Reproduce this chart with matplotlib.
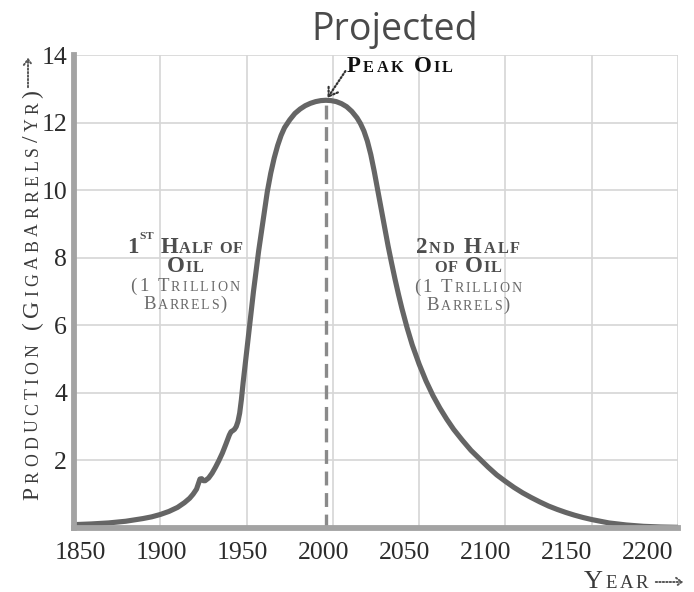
import numpy as np
import matplotlib
matplotlib.use("Agg")
import matplotlib.pyplot as plt
from matplotlib.font_manager import findfont, FontProperties
from matplotlib.ft2font import FT2Font

# ---------------- data ----------------
years = [1850, 1860, 1870, 1880, 1890, 1895, 1900, 1905, 1910, 1914, 1917, 1919,
         1921, 1922, 1923, 1924, 1925, 1926, 1928, 1930, 1932, 1934, 1936, 1938,
         1940, 1941, 1942, 1943, 1944, 1945, 1946, 1947, 1948, 1949, 1950, 1951,
         1952, 1953, 1954, 1955, 1956, 1957, 1958, 1959, 1960, 1961, 1962, 1964,
         1966, 1968, 1970, 1972, 1975, 1978, 1981, 1984, 1987, 1990, 1993, 1996,
         1999, 2002, 2005, 2008, 2011, 2014, 2016, 2018, 2020, 2022, 2024, 2026,
         2028, 2030, 2032, 2034, 2036, 2038, 2040, 2043, 2046, 2050, 2054, 2058,
         2062, 2066, 2070, 2075, 2080, 2085, 2090, 2095, 2100, 2105, 2110, 2115,
         2120, 2125, 2130, 2135, 2140, 2145, 2150, 2155, 2160, 2170, 2180, 2190,
         2200]
production = [0.10, 0.12, 0.15, 0.20, 0.28, 0.33, 0.40, 0.49, 0.61, 0.75, 0.88, 1.00,
              1.15, 1.30, 1.45, 1.46, 1.40, 1.40, 1.48, 1.62, 1.80, 2.00, 2.22, 2.48,
              2.75, 2.85, 2.88, 2.92, 3.00, 3.15, 3.40, 3.80, 4.30, 4.75, 5.20, 5.65,
              6.10, 6.55, 7.00, 7.40, 7.80, 8.20, 8.55, 8.90, 9.25, 9.60, 9.95, 10.50,
              10.95, 11.32, 11.62, 11.85, 12.08, 12.27, 12.40, 12.50, 12.57, 12.62, 12.65, 12.66,
              12.65, 12.62, 12.56, 12.47, 12.33, 12.14, 11.97, 11.75, 11.45, 11.05, 10.55, 10.00,
              9.45, 8.90, 8.35, 7.85, 7.37, 6.92, 6.50, 5.93, 5.42, 4.85, 4.35, 3.92,
              3.55, 3.22, 2.92, 2.60, 2.30, 2.05, 1.80, 1.57, 1.38, 1.20, 1.04, 0.90,
              0.77, 0.65, 0.55, 0.46, 0.38, 0.31, 0.25, 0.20, 0.15, 0.09, 0.05, 0.03,
              0.02]
x_ticks = [1850, 1900, 1950, 2000, 2050, 2100, 2150, 2200]
y_ticks = [2, 4, 6, 8, 10, 12, 14]
title = "Projected"
y_label = "Production (Gigabarrels/yr)"
x_label = "Year"
peak_label = "Peak Oil"
left_lines = ["1st Half of", "Oil", "(1 Trillion", "Barrels)"]
right_lines = ["2nd Half", "of Oil", "(1 Trillion", "Barrels)"]

# ---------------- figure ----------------
W, H, DPI = 694, 592, 100
plt.rcParams["lines.scale_dashes"] = False
fig = plt.figure(figsize=(W / DPI, H / DPI), dpi=DPI)
fig.patch.set_facecolor("white")
AX_L, AX_R, AX_T, AX_B = 74, 678, 55, 528
ax = fig.add_axes([AX_L / W, 1 - AX_B / H, (AX_R - AX_L) / W, (AX_B - AX_T) / H])

SERIF = "Liberation Serif"

ax.plot(years, production, color="#656565", lw=3.7, solid_capstyle="round",
        solid_joinstyle="round", zorder=4)
i_peak = int(np.argmax(production))
ax.vlines(years[i_peak], 0, production[i_peak], colors="#8a8a8a", lw=2.4,
          linestyles=(0, (10, 5.5)), zorder=3)

ax.set_xlim(x_ticks[0], x_ticks[-1])
ax.set_ylim(0, y_ticks[-1])
# grid at the major ticks, labels at slightly compressed positions (as in the source)
ax.set_xticks(x_ticks)
ax.set_xticklabels([])
px_per_year = (AX_R - AX_L) / (x_ticks[-1] - x_ticks[0])
lab_pos = [x_ticks[0] + (6 + 81.1 * k) / px_per_year for k in range(len(x_ticks))]
ax.set_xticks(lab_pos, minor=True)
ax.set_xticklabels([str(t) for t in x_ticks], minor=True)
ax.set_yticks(y_ticks)
ax.grid(which="major", color="#d6d6d6", lw=1.2)
ax.set_axisbelow(True)
for s in ("top", "right"):
    ax.spines[s].set_visible(False)
for s in ("left", "bottom"):
    ax.spines[s].set_color("#a3a3a3")
    ax.spines[s].set_linewidth(4.2)
    ax.spines[s].set_capstyle("projecting")
    ax.spines[s].set_zorder(5)
ax.tick_params(which="both", length=0, labelsize=18.5, colors="#2b2b2b")
ax.tick_params(axis="x", which="both", pad=10)
ax.tick_params(axis="y", pad=5)
for lab in (ax.get_xticklabels(minor=True) + ax.get_yticklabels()):
    lab.set_fontfamily(SERIF)

# ---------------- small caps helper ----------------
_font_cache = {}


def _advance(ch, size, weight):
    if weight not in _font_cache:
        _font_cache[weight] = findfont(FontProperties(family=SERIF, weight=weight))
    f = FT2Font(_font_cache[weight])
    f.set_size(size, DPI)
    g = f.load_char(ord(ch))
    return g.linearHoriAdvance / 65536.0


def sc_parts(s, big, small, sup=None):
    parts = []
    i = 0
    while i < len(s):
        c = s[i]
        if sup and s[i:i + len(sup)] == sup and i > 0 and s[i - 1].isdigit():
            for cc in sup:
                parts.append((cc.upper(), big * 0.5, big * 0.62))
            i += len(sup)
            continue
        if c.islower():
            parts.append((c.upper(), small, 0))
        else:
            parts.append((c, big, 0))
        i += 1
    return parts


def sc_draw(parts, x, y, width=None, ha="center", rot=0, color="#333",
            weight="normal"):
    advs = [_advance(c, s, weight) for c, s, _ in parts]
    natural = sum(advs)
    n = len(parts)
    track = (width - natural) / (n - 1) if (width and n > 1) else 0.0
    track = max(track, 0.0)
    total = natural + track * (n - 1)
    if ha == "center":
        start = -total / 2
    elif ha == "right":
        start = -total
    else:
        start = 0.0
    pos = start
    for (c, s, dy), a in zip(parts, advs):
        if rot == 0:
            px, py = x + pos, y - dy * DPI / 72
        else:
            px, py = x - dy * DPI / 72, y - pos
        fig.text(px / W, 1 - py / H, c, fontsize=s, fontfamily=SERIF,
                 fontweight=weight, color=color, ha="left", va="baseline",
                 rotation=rot, rotation_mode="anchor")
        pos += a + track


# title
fig.text(395 / W, 1 - 40 / H, title, fontsize=27, fontfamily="Open Sans",
         color="#4a4a4a", ha="center", va="baseline")

# y label (rotated, baseline at x=38, starting at y=500 going up)
sc_draw(sc_parts(y_label, 17, 12.8), 38, 500, width=410, ha="left", rot=90,
        color="#3a3a3a")
fig.add_artist(matplotlib.patches.FancyArrowPatch(
    (28 / W, 1 - 90 / H), (28 / W, 1 - 55 / H), transform=fig.transFigure,
    arrowstyle="->,head_length=4,head_width=3", linestyle=(0, (1, 1.5)),
    color="#555", lw=1.4, mutation_scale=1))

# x label (right end just before the dotted arrow)
sc_draw(sc_parts(x_label, 19.0, 13.5), 648, 588, width=64, ha="right",
        color="#3a3a3a")
fig.add_artist(matplotlib.patches.FancyArrowPatch(
    (653 / W, 1 - 582 / H), (686 / W, 1 - 582 / H), transform=fig.transFigure,
    arrowstyle="->,head_length=4,head_width=3", linestyle=(0, (1, 1.5)),
    color="#555", lw=1.4, mutation_scale=1))

# peak oil label
sc_draw(sc_parts(peak_label, 16.5, 11.8), 347, 72, width=106, ha="left",
        color="#111111", weight="bold")
ax.annotate("", xy=(years[i_peak], production[i_peak]), xytext=(14, 21),
            textcoords="offset points",
            arrowprops=dict(arrowstyle="->,head_length=6,head_width=4",
                            linestyle=(0, (1, 1.6)), color="#333", lw=1.6,
                            mutation_scale=1, shrinkA=0, shrinkB=2))

# half annotations
bold_col, light_col = "#4d4d4d", "#6a6a6a"
left_specs = [(253, 116, 16.5, 11.8, "bold", bold_col),
              (272, 37, 16.5, 11.8, "bold", bold_col),
              (291, 109, 13.5, 10.0, "normal", light_col),
              (309, 83, 13.5, 10.0, "normal", light_col)]
for txt, (yy, wd, big, small, wt, col) in zip(left_lines, left_specs):
    sc_draw(sc_parts(txt, big, small, sup="st"), 185, yy, width=wd,
            color=col, weight=wt)

right_specs = [(253, 104, 16.5, 11.8, "bold", bold_col),
               (272, 68, 16.5, 11.8, "bold", bold_col),
               (292, 107, 13.5, 10.0, "normal", light_col),
               (310, 83, 13.5, 10.0, "normal", light_col)]
for txt, (yy, wd, big, small, wt, col) in zip(right_lines, right_specs):
    sc_draw(sc_parts(txt, big, small), 468, yy, width=wd, color=col, weight=wt)

fig.savefig("out.png", dpi=DPI, facecolor="white")
